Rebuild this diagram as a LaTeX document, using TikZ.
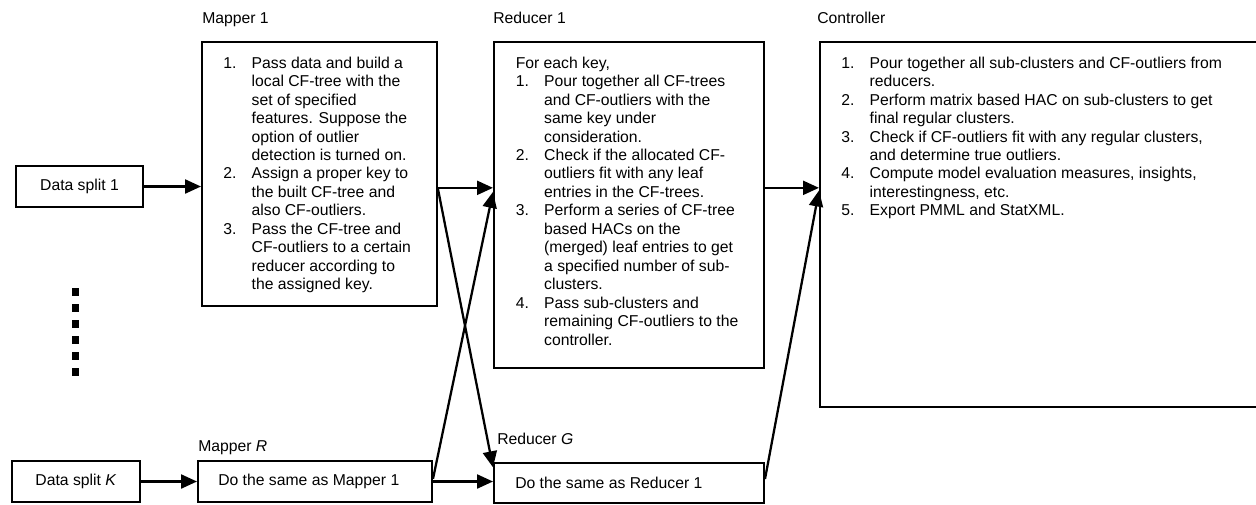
\documentclass[tikz,border=0pt]{standalone}
\usepackage{fontspec}
\setmainfont{Liberation Sans}
\usetikzlibrary{arrows.meta,fit}
\newlength{\numw}
\setlength{\numw}{21.3pt}
\newcommand{\itm}[1]{\makebox[\numw][l]{#1}}
\newcommand{\cnt}{\hspace*{\numw}}
\begin{document}
\begin{tikzpicture}[x=0.75pt,y=-0.75pt,
  every node/.style={font=\fontsize{11.8}{13.85}\selectfont},
  box/.style={draw, line width=1.5pt, inner sep=0pt},
  lbl/.style={anchor=base west, inner sep=0pt},
  txt/.style={anchor=north west, inner sep=0pt, align=left},
  arr/.style={-{Triangle[length=12pt,width=10.5pt]}, line width=1.7pt}]
\useasboundingbox (0,0) rectangle (1256,504);
\clip (0,0) rectangle (1256,504);

% boxes
\node[box, fit={(16,166) (143,207)}] (ds1) {};
\node at (ds1.center) {Data split 1};
\node[box, fit={(202,42) (437,306)}] (m1) {};
\node[box, fit={(494,42) (764,368)}] (r1) {};
\node[box, fit={(820,42) (1264,407)}] (ctrl) {};
\node[box, fit={(12,461) (140,502)}] (dsK) {};
\node at (dsK.center) {Data split \textit{K}};
\node[box, fit={(198,461) (432,502)}] (mR) {};
\node[box, fit={(494,463) (764,503)}] (rG) {};

% labels
\node[lbl] (lm1) at (202,23.5) {Mapper 1};
\node[lbl] (lr1) at (493,23.5) {Reducer 1};
\node[lbl] (lc) at (817,23.5) {Controller};
\node[lbl] (lmR) at (198,451.5) {Mapper \textit{R}};
\node[lbl] (lrG) at (497,444) {Reducer \textit{G}};

% texts
\node[txt] (tm1) at (223,56.5) {%
\itm{1.}Pass data and build a\\
\cnt local CF-tree with the\\
\cnt set of specified\\
\cnt features. Suppose the\\
\cnt option of outlier\\
\cnt detection is turned on.\\
\itm{2.}Assign a proper key to\\
\cnt the built CF-tree and\\
\cnt also CF-outliers.\\
\itm{3.}Pass the CF-tree and\\
\cnt CF-outliers to a certain\\
\cnt reducer according to\\
\cnt the assigned key.};

\node[txt] (tr1) at (515.5,56.5) {%
For each key,\\
\itm{1.}Pour together all CF-trees\\
\cnt and CF-outliers with the\\
\cnt same key under\\
\cnt consideration.\\
\itm{2.}Check if the allocated CF-\\
\cnt outliers fit with any leaf\\
\cnt entries in the CF-trees.\\
\itm{3.}Perform a series of CF-tree\\
\cnt based HACs on the\\
\cnt (merged) leaf entries to get\\
\cnt a specified number of sub-\\
\cnt clusters.\\
\itm{4.}Pass sub-clusters and\\
\cnt remaining CF-outliers to the\\
\cnt controller.};

\node[txt] (tc) at (841,56.5) {%
\itm{1.}Pour together all sub-clusters and CF-outliers from\\
\cnt reducers.\\
\itm{2.}Perform matrix based HAC on sub-clusters to get\\
\cnt final regular clusters.\\
\itm{3.}Check if CF-outliers fit with any regular clusters,\\
\cnt and determine true outliers.\\
\itm{4.}Compute model evaluation measures, insights,\\
\cnt interestingness, etc.\\
\itm{5.}Export PMML and StatXML.};

\node[txt, anchor=west] (tmR) at (218,481.5) {Do the same as Mapper 1};
\node[txt, anchor=west] (trG) at (515,483) {Do the same as Reducer 1};

% dots
\foreach \yy in {292,308,324,340,356,372}
  \fill (71.5,\yy-3.7) rectangle ++(7.5,7.5);

% arrows
\draw[arr] (ds1.east) -- (ds1.east -| m1.west);
\draw[arr] ([yshift=-1pt]m1.east |- ds1.east) -- ([yshift=-1pt]r1.west |- ds1.east);
\draw[arr] ([yshift=-1pt]r1.east |- ds1.east) -- ([yshift=-1pt]ctrl.west |- ds1.east);
\draw[arr] (dsK.east) -- (dsK.east -| mR.west);
\draw[arr] (mR.east) -- (mR.east -| rG.west);
\draw[arr] ([yshift=-2pt]m1.east |- ds1.east) -- ([yshift=-4pt]rG.north west);
\draw[arr] ([yshift=2pt]mR.east) -- ([yshift=-4pt]r1.west |- ds1.east);
\draw[arr] ([yshift=3pt]rG.east) -- ([yshift=-3pt]ctrl.west |- ds1.east);
\end{tikzpicture}
\end{document}
